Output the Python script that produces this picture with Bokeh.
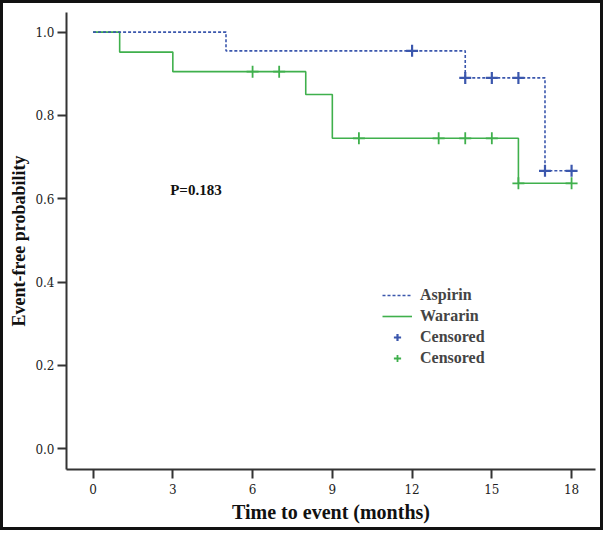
from bokeh.plotting import figure
from bokeh.models import Legend, LegendItem, FixedTicker, NumeralTickFormatter, Range1d
from bokeh.core.properties import value
from bokeh.embed import file_html
from bokeh.resources import INLINE

# --- data (Kaplan-Meier step curves) ---
aspirin_t = [0, 5, 14, 17, 18]
aspirin_s = [1.0, 0.955, 0.890, 0.667, 0.667]
aspirin_cens_t = [12, 14, 15, 16, 17, 18]

warfarin_t = [0, 1, 3, 8, 9, 16, 18]
warfarin_s = [1.0, 0.952, 0.905, 0.850, 0.745, 0.637, 0.637]
warfarin_cens_t = [6, 7, 10, 13, 14, 15, 16, 18]

x_ticks = [0, 3, 6, 9, 12, 15, 18]
y_ticks = [0.0, 0.2, 0.4, 0.6, 0.8, 1.0]
p_value_text = "P=0.183"


def step_lookup(times, surv, t):
    val = surv[0]
    for ti, si in zip(times, surv):
        if ti <= t:
            val = si
    return val


aspirin_cens_s = [step_lookup(aspirin_t, aspirin_s, t) for t in aspirin_cens_t]
warfarin_cens_s = [step_lookup(warfarin_t, warfarin_s, t) for t in warfarin_cens_t]

BLUE = "#3b57ad"
GREEN = "#3fb04c"
SERIF = "Liberation Serif"

p = figure(width=603, height=530, output_backend="svg", toolbar_location=None,
           x_range=Range1d(-1.0, 18.9), y_range=Range1d(-0.05, 1.047),
           min_border_left=63, min_border_right=11, min_border_top=9, min_border_bottom=64)
p.outline_line_color = None
p.xgrid.visible = False
p.ygrid.visible = False
p.background_fill_color = "white"
p.border_fill_color = "white"
p.styles = {"border": "3px solid #111"}

g_line = p.step(warfarin_t, warfarin_s, mode="after", line_color=GREEN, line_width=1.6)
b_line = p.step(aspirin_t, aspirin_s, mode="after", line_color=BLUE, line_width=1.6, line_dash="3 2")
g_cens = p.scatter(warfarin_cens_t, warfarin_cens_s, marker="cross", size=12, line_color=GREEN, line_width=1.8)
b_cens = p.scatter(aspirin_cens_t, aspirin_cens_s, marker="cross", size=12, line_color=BLUE, line_width=2.2)

p.text(x=[2.9], y=[0.62], text=[p_value_text], text_font=value(SERIF), text_font_style="bold",
       text_font_size="15px", text_baseline="middle", text_align="left", text_color="#111")

for ax in (p.xaxis[0], p.yaxis[0]):
    ax.axis_line_width = 2
    ax.axis_line_color = "#333333"
    ax.major_tick_line_width = 2
    ax.major_tick_line_color = "#333333"
    ax.major_tick_in = 0
    ax.major_tick_out = 9
    ax.minor_tick_line_color = None
    ax.major_label_text_font = "DejaVu Serif"
    ax.major_label_text_font_size = "12px"
    ax.major_label_text_color = "#222"
    ax.axis_label_text_font = SERIF
    ax.axis_label_text_font_style = "bold"
    ax.axis_label_text_color = "#111"

p.xaxis.ticker = FixedTicker(ticks=x_ticks)
p.yaxis.ticker = FixedTicker(ticks=y_ticks)
p.yaxis.formatter = NumeralTickFormatter(format="0.0")
p.xaxis.axis_label = "Time to event (months)"
p.yaxis.axis_label = "Event-free probability"
p.xaxis.axis_label_text_font_size = "20px"
p.yaxis.axis_label_text_font_size = "18px"
p.xaxis.major_label_standoff = 5
p.yaxis.major_label_standoff = 3
p.xaxis.axis_label_standoff = 4
p.yaxis.axis_label_standoff = 3

legend = Legend(items=[
    LegendItem(label="Aspirin", renderers=[b_line]),
    LegendItem(label="Wararin", renderers=[g_line]),
    LegendItem(label="Censored", renderers=[b_cens]),
    LegendItem(label="Censored", renderers=[g_cens]),
], location=(314, 100), padding=2, margin=0, spacing=3, glyph_height=18, glyph_width=30,
   label_height=18, label_standoff=8, background_fill_alpha=0, border_line_alpha=0,
   label_text_font=SERIF, label_text_font_style="bold", label_text_font_size="16px")
p.add_layout(legend, "center")

open("out.html", "w").write(file_html(p, INLINE))
